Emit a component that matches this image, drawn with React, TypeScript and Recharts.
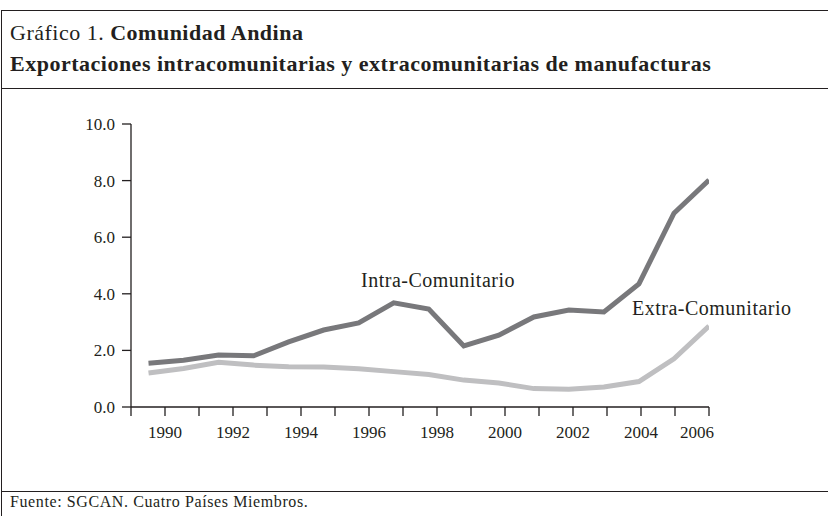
import React from 'react';
import { LineChart, Line, XAxis, YAxis } from 'recharts';

const years = [1990, 1991, 1992, 1993, 1994, 1995, 1996, 1997, 1998, 1999, 2000, 2001, 2002, 2003, 2004, 2005, 2006];
const intra = [1.55, 1.65, 1.84, 1.81, 2.3, 2.72, 2.97, 3.68, 3.46, 2.16, 2.54, 3.18, 3.43, 3.36, 4.35, 6.85, 8.02];
const extra = [1.2, 1.36, 1.58, 1.48, 1.42, 1.41, 1.35, 1.25, 1.15, 0.95, 0.85, 0.65, 0.63, 0.71, 0.9, 1.7, 2.86];

const yTicks = [0, 2, 4, 6, 8, 10];
const xTicks = [1989, 1990, 1991, 1992, 1993, 1994, 1995, 1996, 1997, 1998, 1999, 2000, 2001, 2002, 2003, 2004, 2005, 2006];
const xLabels = [1990, 1992, 1994, 1996, 1998, 2000, 2002, 2004, 2006];

const data = years.map((year, i) => ({ year, intra: intra[i], extra: extra[i] }));

const FONT = '"Liberation Serif", "Times New Roman", serif';
const INK = '#231f20';

function YearTick(props: any) {
  const { x, y, payload } = props;
  const v = payload.value;
  if (!xLabels.includes(v)) return <g />;
  // the last label sits a little to the left of its tick in the original
  const dx = v === 2006 ? -12 : 0;
  return (
    <text x={x + dx} y={y} dy="0.71em" textAnchor="middle" fill={INK} fontSize={17} fontFamily={FONT}>
      {v}
    </text>
  );
}

export default function App() {
  return (
    <div
      style={{
        position: 'absolute',
        left: 0,
        top: 0,
        width: 828,
        height: 516,
        overflow: 'hidden',
        background: '#fff',
        fontFamily: FONT,
        color: INK,
      }}
    >
      <div style={{ position: 'absolute', left: 1, top: 10, width: 900, height: 600, border: `1px solid ${INK}` }} />
      <div style={{ position: 'absolute', left: 1, top: 88, width: 900, height: 1, background: INK }} />
      <div style={{ position: 'absolute', left: 1, top: 491, width: 900, height: 1, background: INK }} />

      <div
        style={{
          position: 'absolute',
          left: 10,
          top: 17,
          fontSize: 22,
          letterSpacing: 0.5,
          lineHeight: '31px',
          whiteSpace: 'nowrap',
        }}
      >
        <div>
          Gráfico 1. <b>Comunidad Andina</b>
        </div>
        <div>
          <b>Exportaciones intracomunitarias y extracomunitarias de manufacturas</b>
        </div>
      </div>

      <div style={{ position: 'absolute', left: 10, top: 493, fontSize: 16, letterSpacing: 0.6, whiteSpace: 'nowrap' }}>
        Fuente: SGCAN. Cuatro Países Miembros.
      </div>

      <div style={{ position: 'absolute', left: 0, top: 0 }}>
        <LineChart width={828} height={516} data={data} margin={{ top: 124, right: 119, bottom: 79, left: 0 }}>
          <XAxis
            xAxisId="data"
            type="number"
            dataKey="year"
            domain={[1989.5, 2006]}
            allowDataOverflow
            hide
            height={0}
          />
          <XAxis
            xAxisId="ticks"
            type="number"
            dataKey="year"
            domain={[1989, 2006]}
            allowDataOverflow
            ticks={xTicks}
            interval={0}
            height={30}
            tickSize={9}
            tickMargin={10}
            axisLine={{ stroke: INK, strokeWidth: 1.3 }}
            tickLine={{ stroke: INK, strokeWidth: 1.3 }}
            tick={<YearTick />}
          />
          <YAxis
            type="number"
            domain={[0, 10]}
            ticks={yTicks}
            interval={0}
            width={131}
            tickSize={9}
            tickMargin={7}
            axisLine={{ stroke: INK, strokeWidth: 1.3 }}
            tickLine={{ stroke: INK, strokeWidth: 1.3 }}
            tick={{ fill: INK, fontSize: 17, fontFamily: FONT }}
            tickFormatter={(v: number) => v.toFixed(1)}
          />
          <Line
            xAxisId="data"
            type="linear"
            dataKey="extra"
            stroke="#bfbfc1"
            strokeWidth={5}
            dot={false}
            isAnimationActive={false}
          />
          <Line
            xAxisId="data"
            type="linear"
            dataKey="intra"
            stroke="#78787b"
            strokeWidth={5}
            dot={false}
            isAnimationActive={false}
          />
        </LineChart>
      </div>

      <div style={{ position: 'absolute', left: 361, top: 269, fontSize: 20, letterSpacing: 0.5, whiteSpace: 'nowrap' }}>
        Intra-Comunitario
      </div>
      <div style={{ position: 'absolute', left: 632, top: 297, fontSize: 20, letterSpacing: 0.5, whiteSpace: 'nowrap' }}>
        Extra-Comunitario
      </div>
    </div>
  );
}
